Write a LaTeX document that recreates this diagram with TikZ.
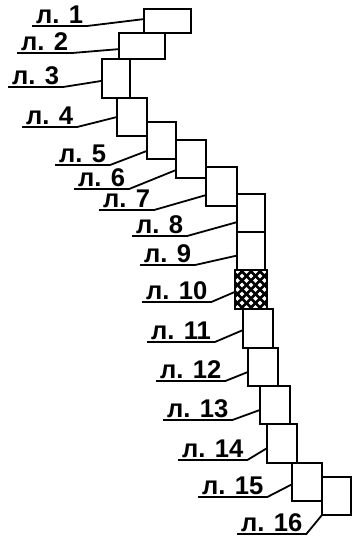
\documentclass[tikz,border=0pt]{standalone}
\usepackage{fontspec}
\setmainfont{Liberation Sans}
\usetikzlibrary{positioning,calc,fit}

\begin{document}
\begin{tikzpicture}[x=0.5pt, y=-0.5pt,
    sheet/.style={rectangle, draw=black, line width=1pt, inner sep=0pt, outer sep=0pt},
    lbl/.style={font=\fontsize{12.8}{15}\selectfont\bfseries, inner xsep=1.8pt, inner ysep=1pt, anchor=south west},
    lead/.style={line width=0.9pt, black},
    hatch/.style={line width=1.4pt, black}
]
\useasboundingbox (0,0) rectangle (352,540);

% sheets
\node[sheet, fit={(144,9) (191,33)}] (b1) {};
\node[sheet, fit={(119,33) (165,59)}] (b2) {};
\node[sheet, fit={(102,59) (130,98)}] (b3) {};
\node[sheet, fit={(117,98) (147,136)}] (b4) {};
\node[sheet, fit={(147,122) (176,159)}] (b5) {};
\node[sheet, fit={(176,140) (206,178)}] (b6) {};
\node[sheet, fit={(206,167) (237,206)}] (b7) {};
\node[sheet, fit={(237,194) (265,232)}] (b8) {};
\node[sheet, fit={(237,232) (265,270)}] (b9) {};
\node[sheet, fit={(235,270) (267,309)}] (b10) {};
\node[sheet, fit={(243,309) (273,348)}] (b11) {};
\node[sheet, fit={(248,348) (278,386)}] (b12) {};
\node[sheet, fit={(260,386) (290,424)}] (b13) {};
\node[sheet, fit={(267,424) (297,463)}] (b14) {};
\node[sheet, fit={(292,463) (322,501)}] (b15) {};
\node[sheet, fit={(322,477) (351,515)}] (b16) {};

% cross hatching of sheet 10
\begin{scope}
\clip (b10.north west) rectangle (b10.south east);
\foreach \d in {-54,-45,...,54} {
  \draw[hatch] ($(b10.center)+(\d,0)+(-30,-30)$) -- ++(60,60);
  \draw[hatch] ($(b10.center)+(\d,0)+(-30,30)$) -- ++(60,-60);
}
\end{scope}

% labels
\node[lbl] (l1) at (32,26) {л. 1};
\node[lbl] (l2) at (17,53) {л. 2};
\node[lbl] (l3) at (8,87) {л. 3};
\node[lbl] (l4) at (22,127) {л. 4};
\node[lbl] (l5) at (55,165) {л. 5};
\node[lbl] (l6) at (74,189) {л. 6};
\node[lbl] (l7) at (99,210) {л. 7};
\node[lbl] (l8) at (132,236) {л. 8};
\node[lbl] (l9) at (140,265) {л. 9};
\node[lbl] (l10) at (142,302) {л. 10};
\node[lbl] (l11) at (147,342) {л. 11};
\node[lbl] (l12) at (156,381) {л. 12};
\node[lbl] (l13) at (163,420) {л. 13};
\node[lbl] (l14) at (178,460) {л. 14};
\node[lbl] (l15) at (198,497) {л. 15};
\node[lbl] (l16) at (237,534) {л. 16};

% leaders
\foreach \i/\f in {1/0.42, 2/0.62, 3/0.56, 4/0.5, 5/0.78, 6/0.79, 7/0.72, 8/0.74,
                   9/0.62, 10/0.56, 11/0.54, 12/0.63, 13/0.63, 14/0.62, 15/0.56, 16/1}
  \draw[lead] (l\i.south west) -- (l\i.south east) -- ($(b\i.north west)!\f!(b\i.south west)$);
\end{tikzpicture}
\end{document}
